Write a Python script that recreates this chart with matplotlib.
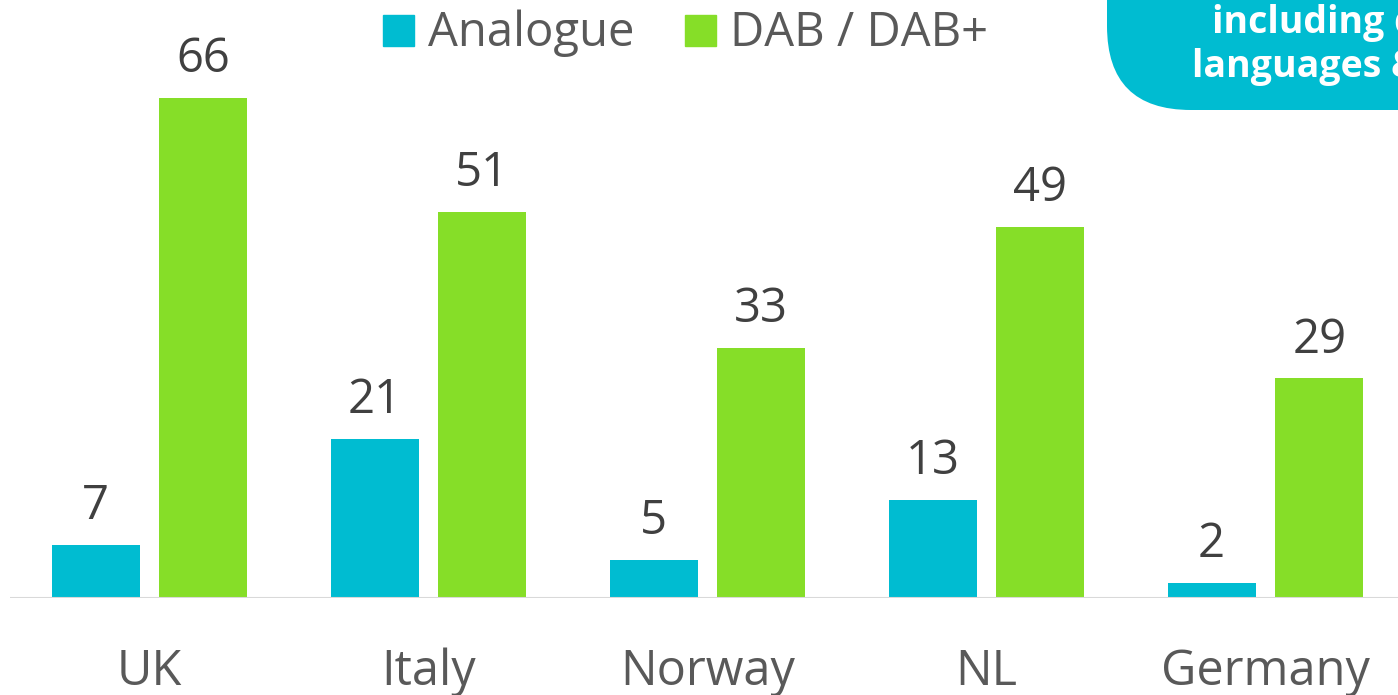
import matplotlib
matplotlib.use("Agg")
import matplotlib.pyplot as plt
from matplotlib.patches import FancyBboxPatch, Rectangle
import numpy as np

categories = ["UK", "Italy", "Norway", "NL", "Germany"]
analogue = [7, 21, 5, 13, 2]
dab = [66, 51, 33, 49, 29]
series_names = ["Analogue", "DAB / DAB+"]

CYAN = "#00BCD1"
GREEN = "#86DE28"
TXT = "#404040"
CAT_TXT = "#595959"
LEG_TXT = "#595959"

plt.rcParams['font.family'] = ['Open Sans', 'DejaVu Sans']

W, H = 1398, 695
fig = plt.figure(figsize=(W / 100, H / 100), dpi=100)
ax = fig.add_axes([10 / W, (H - 598) / H, 1 - 10 / W, 598 / H])
ax.set_xlim(-0.5, 4.475)
ax.set_ylim(0, 598 / 7.576)

x = np.arange(len(categories))
bw = 0.315
off = 0.193
b1 = ax.bar(x - off, analogue, bw, color=CYAN, zorder=2)
b2 = ax.bar(x + off, dab, bw, color=GREEN, zorder=2)

for bars, vals in ((b1, analogue), (b2, dab)):
    for rect, v in zip(bars, vals):
        ax.annotate(str(v), (rect.get_x() + rect.get_width() / 2, v),
                    xytext=(0, 18.5), textcoords="offset points",
                    ha="center", va="baseline", fontsize=34, color=TXT)

for xi, c in zip(x, categories):
    ax.annotate(c, (xi, 0), xytext=(0, -62.6), textcoords="offset points",
                ha="center", va="baseline", fontsize=35, color=CAT_TXT,
                annotation_clip=False)

for s in ax.spines.values():
    s.set_visible(False)
ax.axhline(0, color="#D9D9D9", lw=1.5, zorder=3)
ax.set_xticks([])
ax.set_yticks([])
ax.patch.set_alpha(0)

# legend (manual)
def fx(px):
    return px / W

def fy(py):
    return 1 - py / H

for sx, tx, col, name in ((383, 428, CYAN, series_names[0]), (685, 730, GREEN, series_names[1])):
    fig.patches.append(Rectangle((fx(sx), fy(46)), 31 / W, 31 / H, transform=fig.transFigure,
                                 color=col, zorder=5))
    fig.text(fx(tx), fy(46), name, fontsize=34, color=LEG_TXT, ha="left", va="baseline")

# top-right callout box
box = FancyBboxPatch((fx(1107), fy(110)), (1700 - 1107) / W, 200 / H,
                     boxstyle="round,pad=0,rounding_size=0.06",
                     transform=fig.transFigure, facecolor=CYAN, edgecolor="none",
                     mutation_aspect=W / H, zorder=4)
fig.patches.append(box)
fig.text(fx(1212), fy(33), "including different", fontsize=27, fontweight="bold",
         color="white", ha="left", va="baseline", zorder=6)
fig.text(fx(1192), fy(77), "languages & dialects", fontsize=27, fontweight="bold",
         color="white", ha="left", va="baseline", zorder=6)

fig.savefig("out.png", dpi=100)
